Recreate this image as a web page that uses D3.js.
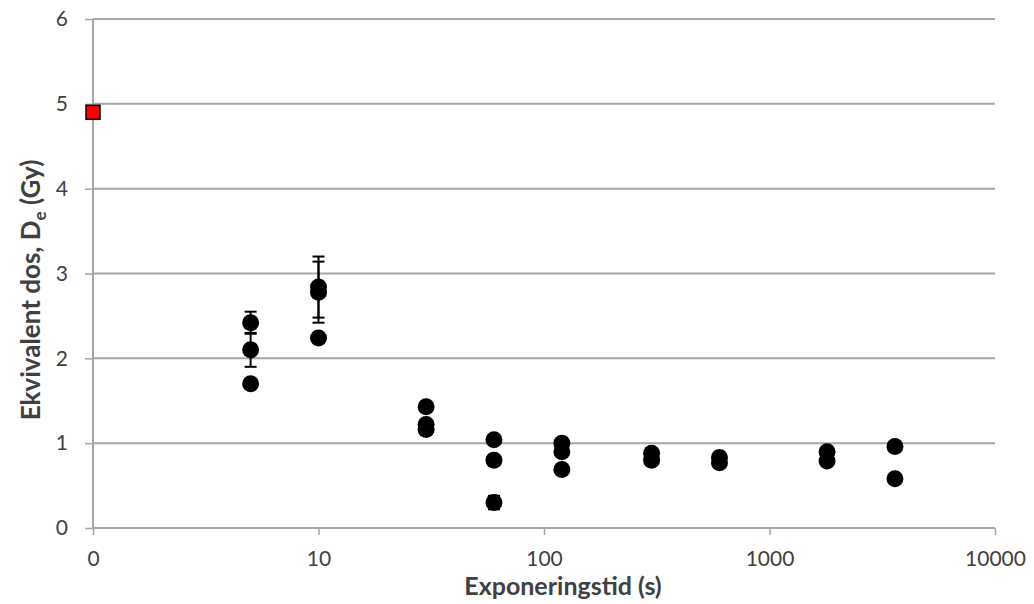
<!DOCTYPE html>
<html>
<head>
<meta charset="utf-8">
<script src="https://cdn.jsdelivr.net/npm/d3@7"></script>
<style>
body{margin:0;background:#fff;}
text{font-family:Lato,"Open Sans",sans-serif;fill:#404040;}
</style>
</head>
<body>
<script>
// exposure time (s), equivalent dose (Gy), error (Gy)
var times=[5,5,5,10,10,10,30,30,30,60,60,60,120,120,120,300,300,600,600,1800,1800,3600,3600];
var doses=[2.42,2.10,1.70,2.84,2.78,2.24,1.43,1.22,1.16,1.04,0.80,0.30,1.00,0.90,0.69,0.88,0.80,0.83,0.77,0.90,0.79,0.96,0.58];
var errs=[0.13,0.20,0,0.36,0.36,0,0,0,0,0,0,0.08,0,0,0,0,0,0,0,0,0,0,0];
// reference (unexposed) dose, plotted at the left edge
var refTime=[1],refDose=[4.9];
var xTicks=[1,10,100,1000,10000],xLabels=["0","10","100","1000","10000"];
var yTicks=[0,1,2,3,4,5,6];

var W=1034,H=604;
var svg=d3.select("body").append("svg").attr("width",W).attr("height",H);

var x=d3.scaleLog().domain([1,10000]).range([93,995]);
var y=d3.scaleLinear().domain([0,6]).range([528,19]);

// gridlines
svg.append("g").selectAll("line").data(yTicks.slice(1)).enter().append("line")
.attr("x1",93).attr("x2",995)
.attr("y1",function(d){return y(d);}).attr("y2",function(d){return y(d);})
.attr("stroke","#a6a6a6").attr("stroke-width",2);

// x axis
var xa=svg.append("g").attr("transform","translate(0,"+y(0)+")")
.call(d3.axisBottom(x).tickValues(xTicks).tickFormat(function(d,i){return xLabels[i];}).tickSize(7).tickPadding(16));
xa.select(".domain").attr("stroke","#a6a6a6").attr("stroke-width",2).attr("d","M93,0H995");
xa.selectAll(".tick line").attr("stroke","#a6a6a6").attr("stroke-width",1.5);
xa.selectAll(".tick text").style("font-size","21px").attr("fill","#404040");

// y axis
var ya=svg.append("g").attr("transform","translate(93,0)")
.call(d3.axisLeft(y).tickValues(yTicks).tickFormat(d3.format("d")).tickSize(8).tickPadding(17));
ya.select(".domain").attr("stroke","#a6a6a6").attr("stroke-width",2).attr("d","M0,19V528");
ya.selectAll(".tick line").attr("stroke","#a6a6a6").attr("stroke-width",1.5);
ya.selectAll(".tick text").style("font-size","21px").attr("fill","#404040");

// error bars
var eb=svg.append("g").selectAll("g").data(d3.range(times.length).filter(function(i){return errs[i]>0;})).enter().append("g");
eb.append("line")
.attr("x1",function(i){return x(times[i]);}).attr("x2",function(i){return x(times[i]);})
.attr("y1",function(i){return y(doses[i]+errs[i]);}).attr("y2",function(i){return y(doses[i]-errs[i]);})
.attr("stroke","#000").attr("stroke-width",2);
[1,-1].forEach(function(s){
	eb.append("line")
	.attr("x1",function(i){return x(times[i])-6;}).attr("x2",function(i){return x(times[i])+6;})
	.attr("y1",function(i){return y(doses[i]+s*errs[i]);}).attr("y2",function(i){return y(doses[i]+s*errs[i]);})
	.attr("stroke","#000").attr("stroke-width",2);
});

// points
svg.append("g").selectAll("circle").data(d3.range(times.length)).enter().append("circle")
.attr("cx",function(i){return x(times[i]);})
.attr("cy",function(i){return y(doses[i]);})
.attr("r",8.5).attr("fill","#000");

// reference square
svg.append("g").selectAll("rect").data(refTime).enter().append("rect")
.attr("x",function(d){return x(d)-7;})
.attr("y",function(d,i){return y(refDose[i])-7;})
.attr("width",14).attr("height",14)
.attr("fill","#ff0000").attr("stroke","#000").attr("stroke-width",1.5);

// titles
svg.append("text").attr("x",563).attr("y",595).attr("text-anchor","middle")
.style("font-size","25px").style("font-weight","bold").attr("fill","#262626").text("Exponeringstid (s)");

var yt=svg.append("text").attr("transform","translate(40,290) rotate(-90)").attr("text-anchor","middle")
.style("font-size","26px").style("font-weight","bold").attr("fill","#262626");
yt.append("tspan").text("Ekvivalent dos, D");
yt.append("tspan").attr("dy",6).style("font-size","17px").text("e");
yt.append("tspan").attr("dy",-6).text(" (Gy)");
</script>
</body>
</html>
